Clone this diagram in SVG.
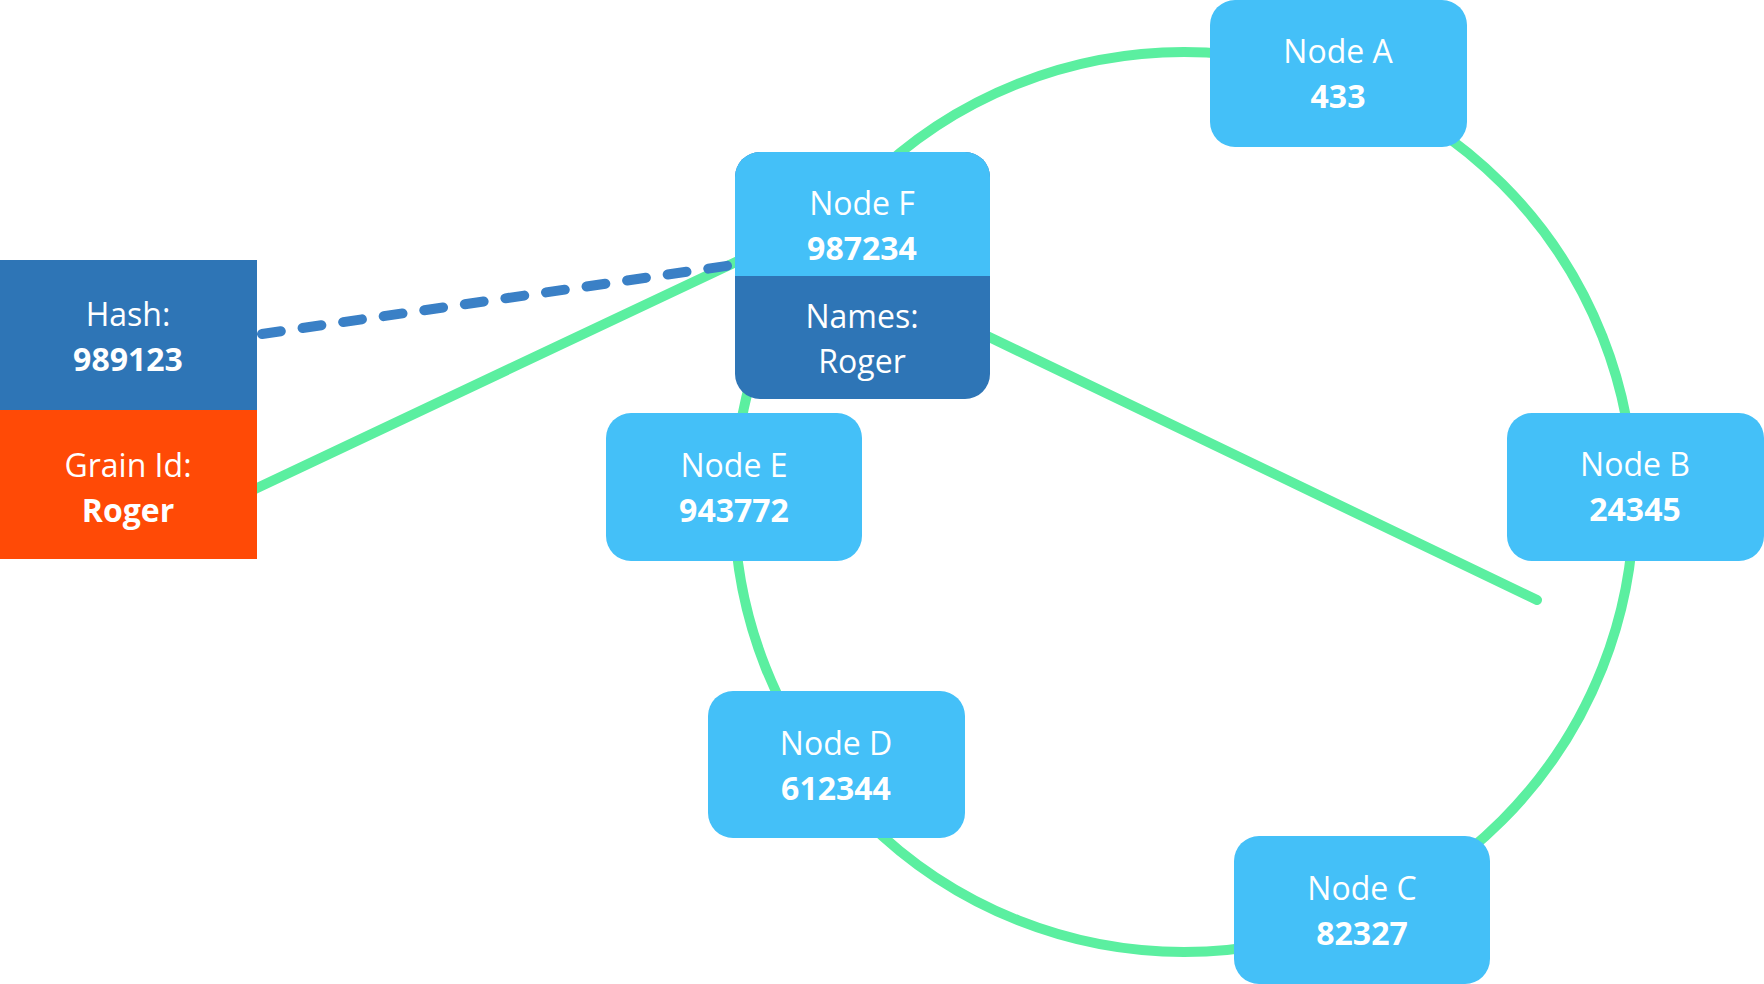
<svg xmlns="http://www.w3.org/2000/svg" width="1764" height="984" viewBox="0 0 1764 984">
<style>
.ring{fill:none;stroke:#5BEFA0;stroke-width:10}
.ln{stroke:#5BEFA0;stroke-width:10;stroke-linecap:round;fill:none}
.dash{stroke:#3A80C6;stroke-width:10;stroke-linecap:round;stroke-dasharray:19 22;fill:none}
.lb{fill:#44C0F8}
.db{fill:#2E75B6}
.or{fill:#FF4A06}
text{font-family:"Open Sans","Noto Sans",sans-serif;font-size:32px;fill:#fff;text-anchor:middle}
.b{font-weight:bold}
</style>
<g id="connectors">
<circle class="ring" cx="1184" cy="502" r="450"/>
<line class="ln" x1="255" y1="489" x2="738" y2="261"/>
<line class="ln" x1="985" y1="335" x2="1537" y2="600"/>
<line class="dash" x1="262" y1="334" x2="733" y2="265"/>
</g>
<g id="hash">
<rect class="db" x="0" y="260" width="257" height="150"/>
<text x="128" y="326">Hash:</text>
<text class="b" x="128" y="371">989123</text>
</g>
<g id="grain">
<rect class="or" x="0" y="410" width="257" height="149"/>
<text x="128" y="477">Grain Id:</text>
<text class="b" x="128" y="522">Roger</text>
</g>
<g id="nodeA">
<rect class="lb" x="1210" y="0" width="257" height="147" rx="25"/>
<text x="1338" y="63">Node A</text>
<text class="b" x="1338" y="108">433</text>
</g>
<g id="nodeB">
<rect class="lb" x="1507" y="413" width="257" height="148" rx="25"/>
<text x="1635" y="476">Node B</text>
<text class="b" x="1635" y="521">24345</text>
</g>
<g id="nodeC">
<rect class="lb" x="1234" y="836" width="256" height="148" rx="25"/>
<text x="1362" y="900">Node C</text>
<text class="b" x="1362" y="945">82327</text>
</g>
<g id="nodeD">
<rect class="lb" x="708" y="691" width="257" height="147" rx="25"/>
<text x="836" y="755">Node D</text>
<text class="b" x="836" y="800">612344</text>
</g>
<g id="nodeE">
<rect class="lb" x="606" y="413" width="256" height="148" rx="25"/>
<text x="734" y="477">Node E</text>
<text class="b" x="734" y="522">943772</text>
</g>
<g id="nodeF">
<rect class="db" x="735" y="152" width="255" height="247" rx="25"/>
<path class="lb" d="M735 276 V177 A25 25 0 0 1 760 152 H965 A25 25 0 0 1 990 177 V276 Z"/>
<text x="862" y="215">Node F</text>
<text class="b" x="862" y="260">987234</text>
<text x="862" y="328">Names:</text>
<text x="862" y="373">Roger</text>
</g>
</svg>
